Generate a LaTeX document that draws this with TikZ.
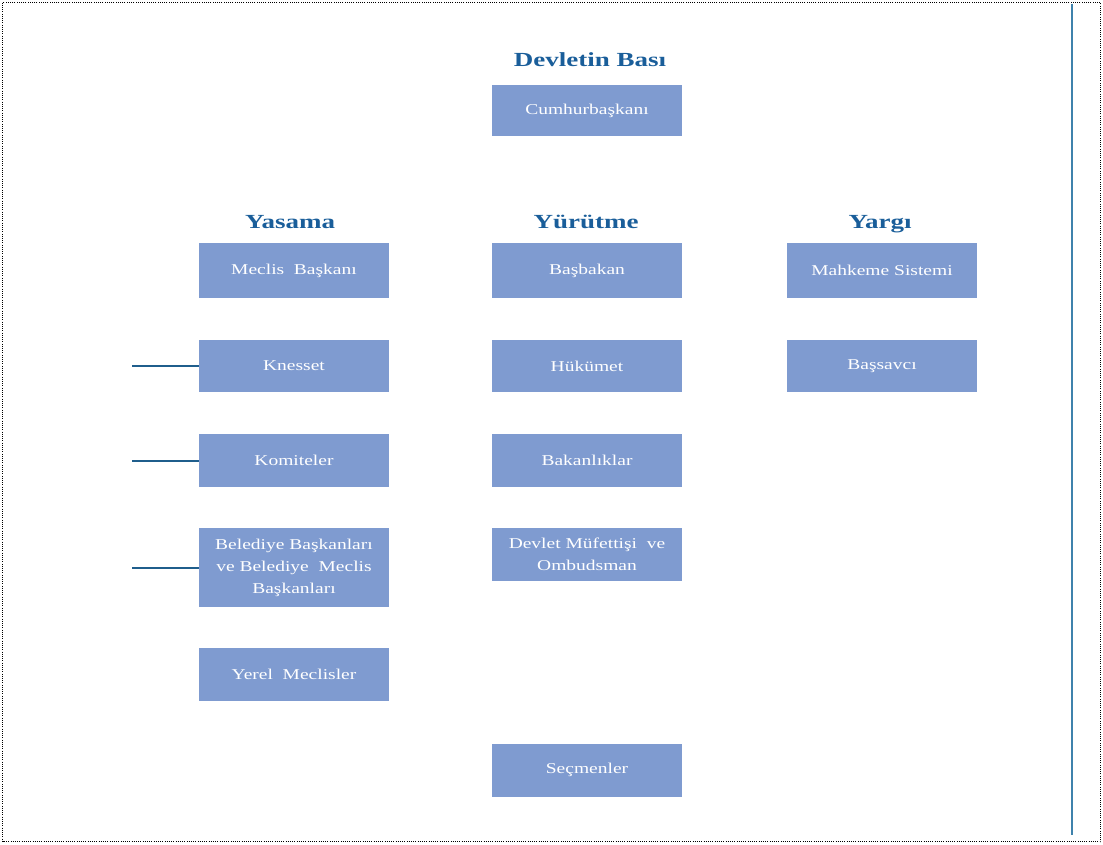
\documentclass[tikz,border=0pt]{standalone}
\usepackage{fontspec}
\setmainfont{Liberation Serif}
\newfontfamily\boxfont[FakeStretch=1.3]{Liberation Serif}
\newfontfamily\headfont[FakeStretch=1.35]{Liberation Serif}
\definecolor{boxfill}{HTML}{7F9BD0}
\definecolor{headblue}{HTML}{1A5E9A}
\definecolor{linkblue}{HTML}{1F5E8C}
\definecolor{sideblue}{HTML}{3F82AC}
\begin{document}
\begin{tikzpicture}[x=1pt,y=-1pt,
  orgbox/.style={fill=boxfill, draw=none, minimum width=190pt, minimum height=53pt,
    align=center, text=white, font=\boxfont\fontsize{15}{22}\selectfont, inner sep=2pt},
  headtext/.style={text=headblue, font=\headfont\bfseries\fontsize{20}{23}\selectfont},
  link/.style={draw=linkblue, line width=1.3pt}]
\useasboundingbox (0,0) rectangle (1103,844);
\draw[line width=1pt, dash pattern=on 1pt off 1.2pt] (2.5,2.5) rectangle (1100.5,841.5);
\draw[sideblue, line width=2pt] (1072,4) -- (1072,835);

\node[headtext] (hbas) at (590,60) {Devletin Bası};
\node[headtext] (hyas) at (290,222) {Yasama};
\node[headtext] (hyur) at (586,222) {Yürütme};
\node[headtext] (hyar) at (880,224) {Yargı};

\node[orgbox, minimum height=51pt] (cum) at (587,110.5) {Cumhurbaşkanı};

\node[orgbox, minimum height=55pt] (meclis) at (294,270.5) {Meclis\ \ Başkanı};
\node[orgbox, minimum height=55pt] (basbakan) at (587,270.5) {Başbakan};
\node[orgbox, minimum height=55pt] (mahkeme) at (882,270.5) {Mahkeme Sistemi};

\node[orgbox, minimum height=52pt] (knesset) at (294,366) {Knesset};
\node[orgbox, minimum height=52pt] (hukumet) at (587,366) {Hükümet};
\node[orgbox, minimum height=52pt] (bassavci) at (882,366) {Başsavcı};

\node[orgbox] (komiteler) at (294,460.5) {Komiteler};
\node[orgbox] (bakanliklar) at (587,460.5) {Bakanlıklar};

\node[orgbox, minimum height=79pt] (belediye) at (294,567.5) {Belediye Başkanları\\ve Belediye\ \ Meclis\\Başkanları};
\node[orgbox] (devlet) at (587,554.5) {Devlet Müfettişi\ \ ve\\Ombudsman};

\node[orgbox] (yerel) at (294,674.5) {Yerel\ \ Meclisler};
\node[orgbox] (secmenler) at (587,770) {Seçmenler};

\coordinate (k0) at (132,366);
\coordinate (m0) at (132,461);
\coordinate (b0) at (132,568);
\draw[link] (k0) -- (k0 -| knesset.west);
\draw[link] (m0) -- (m0 -| komiteler.west);
\draw[link] (b0) -- (b0 -| belediye.west);
\end{tikzpicture}
\end{document}
